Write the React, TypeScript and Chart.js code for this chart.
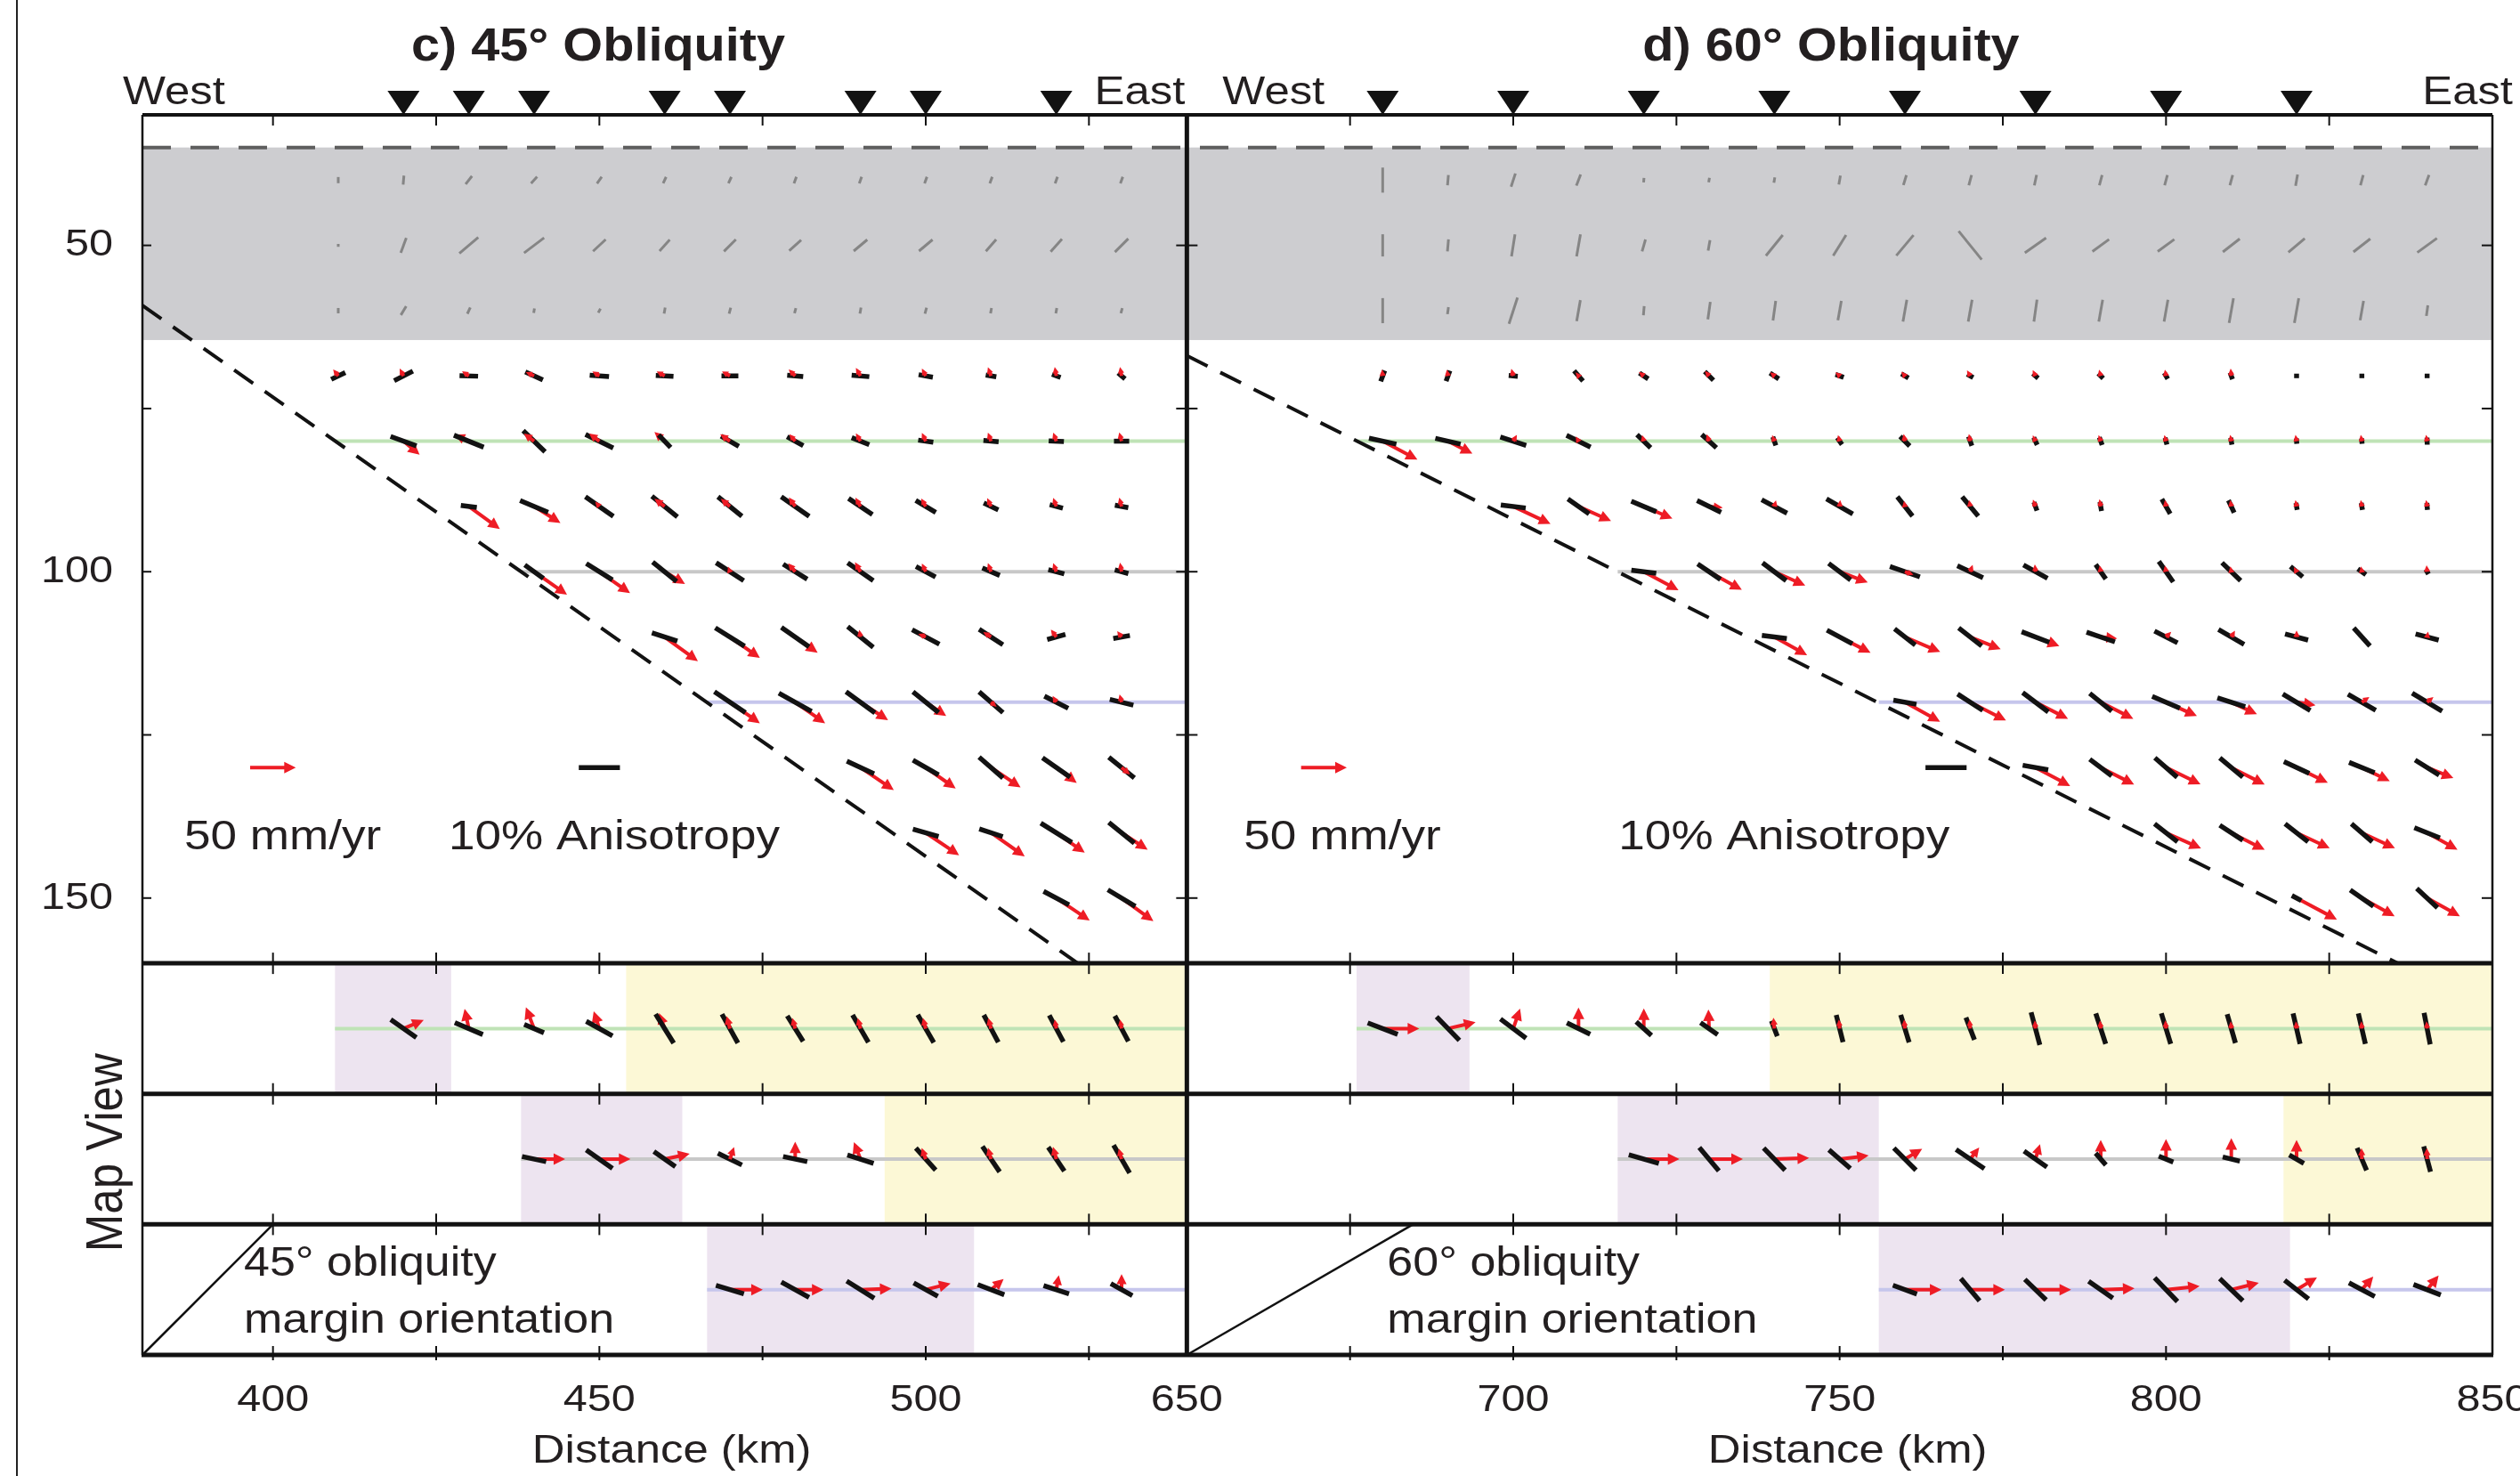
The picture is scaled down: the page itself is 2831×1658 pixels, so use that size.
import React, { useEffect, useRef } from "react";
import { Chart, registerables } from "chart.js";

Chart.register(...registerables);

// ---------------- axes / ticks ----------------
const X_MINOR_TICKS = [400, 425, 450, 475, 500, 525, 675, 700, 725, 750, 775, 800, 825];
const X_LABELS = [400, 450, 500, 650, 700, 750, 800, 850];
const Y_TICKS = [50, 75, 100, 125, 150];
const Y_LABELS = [50, 100, 150];
const STATIONS_C = [420, 430, 440, 460, 470, 490, 500, 520];
const STATIONS_D = [680, 700, 720, 740, 760, 780, 800, 820];

// lithosphere band & slab geometry (km, depth km)
const LITHO_TOP = 35;
const LITHO_BOTTOM = 64.5;
const SLAB_C = [[380, 59.2], [523.3, 160]];
const SLAB_D = [[650, 66.9], [835.5, 160]];

// profile lines (depth 80 / 100 / 120) -> map strips
const PROFILE_DEPTHS = [80, 100, 120];
const PROFILE_COLORS = ["#bfe3b6", "#c8c8c8", "#c6c6ec"];
const MAP_CENTERS = [170, 190, 210];
const C_LINE_START = [409.5, 438, 466.5];
const D_LINE_START = [676, 716, 756];
const C_PURPLE_END = [427.3, 462.7, 507.4];
const D_PURPLE_END = [693.3, 756, 819];
const C_YELLOW_START = [454.1, 493.7, null];
const D_YELLOW_START = [739.3, 818, null];

// ---------------- lithosphere (gray bars, % and orientation deg) ----------------
const LITHO_DEPTHS = [40, 50, 60];
const C_LITHO_ANI = [
  [1.5, 2.2, 2.5, 2.2, 2.0, 1.7, 1.7, 1.7, 1.7, 1.7, 1.7, 1.7, 1.7],
  [0.7, 3.9, 6.0, 6.1, 4.2, 3.7, 4.1, 3.9, 4.3, 4.3, 3.8, 4.1, 4.6],
  [1.3, 2.5, 1.7, 1.1, 1.1, 1.5, 1.5, 1.3, 1.5, 1.5, 1.3, 1.3, 1.3],
];
const C_LITHO_DIR = [
  [-90, -85, -52, -48, -55, -65, -65, -70, -70, -70, -70, -70, -70],
  [-90, -70, -40, -37, -43, -48, -45, -42, -40, -40, -49, -48, -45],
  [-90, -59, -65, -80, -60, -80, -75, -75, -80, -75, -80, -80, -75],
];
const D_LITHO_ANI = [
  [6.1, 2.5, 3.4, 2.9, 1.1, 1.1, 1.3, 2.2, 2.5, 2.6, 2.6, 2.6, 2.6, 2.6, 2.8, 2.6, 2.7],
  [5.4, 2.9, 5.4, 5.4, 3.0, 2.6, 6.5, 5.9, 6.5, 8.9, 6.3, 5.0, 5.0, 5.2, 5.2, 5.2, 5.9],
  [6.1, 1.7, 6.7, 5.2, 2.2, 4.3, 4.8, 4.8, 5.4, 5.4, 5.4, 5.4, 5.4, 6.1, 6.1, 4.8, 2.6],
];
const D_LITHO_DIR = [
  [-90, -85, -72, -69, -85, -80, -80, -80, -73, -75, -78, -75, -75, -75, -80, -75, -70],
  [-90, -85, -81, -80, -74, -80, -51, -58, -50, 51, -35, -36, -36, -38, -40, -38, -36],
  [-90, -82, -72, -80, -85, -82, -82, -80, -80, -80, -82, -80, -80, -80, -80, -80, -82],
];

// ---------------- cross-section c) 45° ----------------
const C_DEPTHS = [70, 80, 90, 100, 110, 120, 130, 140, 150];
const C_FIRST = [410, 420, 430, 440, 460, 470, 490, 500, 520];
const C_VEL = [
  [9, 9, 9, 10, 9, 10, 10, 10, 10, 9, 10, 10, 10],
  [23, 17, 14, 14, 15, 13, 10, 10, 10, 10, 10, 10],
  [42, 34, 7, 14, 13, 12, 11, 10, 10, 10, 10],
  [44, 41, 26, 6, 12, 12, 10, 10, 10, 10],
  [45, 40, 30, 8, 9, 10, 10, 8],
  [40, 40, 36, 27, 8, 8, 9],
  [44, 40, 39, 28, 12],
  [44, 45, 38, 34],
  [44, 43],
];
const C_VEL_DIR = [
  [-128, -118, -145, -155, -148, -150, -150, -135, -120, -118, -110, -100, -100],
  [40, -155, -143, -143, -138, -144, -130, -120, -115, -110, -110, -105],
  [36, 32, -130, -143, -140, -125, -120, -120, -115, -110, -105],
  [35, 35, 31, -110, -130, -120, -115, -110, -110, -100],
  [36, 35, 35, -100, -157, -148, -126, -127],
  [35, 35, 33, 34, 40, -120, -104],
  [34, 35, 34, 37, 40],
  [34, 35, 35, 33],
  [34, 36],
];
const C_ANI = [
  [3.8, 5.1, 4.5, 4.7, 4.7, 4.3, 4.1, 3.9, 4.3, 3.5, 2.6, 2.2, 2.2],
  [6.7, 7.8, 7.4, 7.5, 4.2, 5.0, 4.5, 4.6, 3.7, 3.7, 3.7, 3.7],
  [3.9, 7.4, 8.3, 8.0, 7.5, 8.3, 7.0, 5.7, 3.9, 3.3, 3.3],
  [5.6, 7.5, 7.5, 8.0, 6.9, 7.6, 5.4, 4.6, 4.0, 3.4],
  [6.5, 8.4, 8.2, 8.0, 7.5, 6.9, 4.6, 4.1],
  [9.1, 9.1, 8.7, 8.0, 7.7, 6.5, 5.9],
  [7.3, 7.2, 7.7, 8.2, 8.0],
  [6.5, 6.0, 8.9, 8.0],
  [7.0, 7.8],
];
const C_ANI_DIR = [
  [-26, -27, 2, 25, 4, 3, 0, 5, 5, 10, 10, 20, 40],
  [20, 22, 44, 26, 46, 30, 29, 22, 8, 5, 3, 0],
  [7, 23, 35, 39, 39, 35, 34, 31, 25, 15, 10],
  [36, 32, 39, 33, 32, 35, 28, 23, 15, 15],
  [18, 32, 35, 39, 28, 33, -16, -10],
  [34, 29, 36, 39, 41, 27, 14],
  [25, 30, 41, 35, 39],
  [16, 18, 32, 39],
  [28, 31],
];

// ---------------- cross-section d) 60° ----------------
const D_DEPTHS = [70, 80, 90, 100, 110, 120, 130, 140, 150];
const D_FIRST = [680, 680, 700, 720, 740, 760, 780, 800, 820];
const D_VEL = [
  [7, 7, 8, 5, 7, 7, 6, 6, 6, 7, 7, 7, 7, 8, 0, 0, 0],
  [43, 30, 8, 6, 7, 8, 7, 7, 8, 8, 7, 7, 7, 7, 7, 7, 7],
  [45, 39, 34, 15, 7, 7, 6, 7, 8, 8, 7, 7, 7, 7, 7],
  [43, 41, 37, 33, 10, 8, 8, 7, 7, 6, 6, 6, 7],
  [41, 38, 42, 36, 28, 18, 8, 8, 7, 0, 6],
  [44, 44, 40, 40, 37, 31, 21, 10, 9],
  [43, 41, 42, 41, 38, 34, 31],
  [42, 41, 40, 40, 38],
  [50, 41, 41],
];
const D_VEL_DIR = [
  [-95, -100, -105, -130, -140, -130, -140, -140, -130, -120, -115, -105, -100, -95, -90, -90, -90],
  [28, 27, -60, -120, -105, -110, -110, -105, -100, -100, -115, -110, -105, -100, -100, -100, -100],
  [25, 24, 23, 5, -75, -85, -100, -100, -110, -100, -100, -100, -100, -100, -100],
  [28, 29, 24, 21, 20, -70, -95, -100, -100, -100, -120, -100, -95],
  [29, 27, 23, 22, 21, 5, -45, -60, -90, -90, -80],
  [29, 27, 27, 27, 24, 25, 9, -35, -40],
  [28, 27, 26, 27, 26, 26, 22],
  [24, 27, 25, 25, 29],
  [28, 29, 29],
];
const D_ANI = [
  [2.8, 2.7, 2.2, 3.3, 2.6, 3.0, 2.6, 2.1, 2.0, 1.7, 1.7, 1.7, 1.7, 1.7, 1.1, 1.1, 1.1],
  [6.8, 6.3, 6.6, 6.5, 4.6, 4.8, 2.2, 2.0, 3.3, 2.4, 2.0, 2.0, 1.7, 1.7, 1.3, 1.3, 1.7],
  [6.1, 6.3, 6.6, 6.5, 7.0, 7.4, 6.0, 6.1, 2.2, 2.2, 4.1, 3.3, 1.7, 1.7, 1.7],
  [6.1, 6.7, 7.2, 6.7, 7.7, 6.9, 6.7, 4.3, 6.1, 6.3, 3.9, 2.4, 1.3],
  [6.1, 7.0, 6.4, 7.1, 7.2, 7.3, 6.3, 7.2, 5.8, 5.9, 5.8],
  [5.7, 7.3, 7.8, 6.9, 7.3, 7.1, 7.8, 7.8, 8.5],
  [6.3, 6.7, 7.2, 7.3, 6.8, 6.7, 6.9],
  [7.1, 6.7, 7.1, 6.7, 6.7],
  [2.6, 6.9, 6.9],
];
const D_ANI_DIR = [
  [-70, -70, 5, 49, 34, 45, 34, 20, 30, 30, 40, 45, 60, 70, 90, 90, 90],
  [12, 13, 18, 26, 44, 42, 70, 55, 45, 70, 65, 70, 75, 80, 85, 85, 88],
  [7, 35, 23, 26, 28, 30, 52, 50, 70, 80, 60, 65, 80, 80, 85],
  [7, 34, 37, 37, 19, 25, 29, 55, 55, 44, 40, 35, 60],
  [7, 28, 38, 38, 21, 19, 27, 30, 15, 48, 15],
  [10, 33, 37, 39, 23, 18, 31, 30, 31],
  [10, 37, 41, 40, 25, 22, 32],
  [38, 33, 38, 41, 22],
  [28, 35, 43],
];

// ---------------- map views ----------------
const C_MAP_FIRST = [420, 440, 470];
const C_MAP_VEL = [
  [24, 22, 25, 20, 18, 14, 12, 12, 12, 12, 10, 10],
  [34, 34, 28, 14, 19, 20, 13, 13, 14, 12],
  [36, 31, 34, 28, 18, 16, 17],
];
const C_MAP_VEL_DIR = [
  [-23, -102, -111, -108, -110, -105, -105, -105, -105, -105, -100, -100],
  [0, 0, -12, -71, -90, -111, -110, -105, -105, -105],
  [0, 0, -2, -14, -40, -80, -90],
];
const C_MAP_ANI = [
  [7.6, 7.4, 5.2, 7.3, 8.3, 8.0, 7.3, 7.7, 7.8, 7.5, 7.3, 7.0],
  [6.0, 7.8, 6.4, 6.5, 6.0, 6.7, 7.2, 7.5, 7.0, 7.8],
  [7.1, 7.7, 7.9, 6.7, 6.9, 6.5, 6.0],
];
const C_MAP_ANI_DIR = [
  [35, 23, 23, 29, 58, 61, 58, 60, 60, 62, 62, 62],
  [12, 35, 35, 26, 12, 18, 48, 56, 56, 60],
  [17, 29, 32, 29, 21, 18, 29],
];
const D_MAP_FIRST = [680, 720, 760];
const D_MAP_VEL = [
  [40, 31, 23, 23, 22, 21, 12, 10, 10, 10, 9, 9, 9, 8, 8, 8, 8],
  [39, 37, 38, 32, 22, 16, 17, 21, 22, 23, 21, 12, 12],
  [40, 38, 39, 37, 37, 31, 26, 19, 20],
];
const D_MAP_VEL_DIR = [
  [0, -13, -71, -90, -90, -92, -95, -95, -95, -95, -95, -95, -95, -95, -95, -95, -95],
  [0, 0, -2, -7, -31, -52, -73, -90, -90, -90, -90, -92, -92],
  [0, 0, 0, -2, -6, -14, -31, -49, -51],
];
const D_MAP_ANI = [
  [7.8, 8.0, 7.8, 6.3, 5.0, 5.1, 4.0, 6.8, 7.0, 5.8, 8.2, 7.8, 7.8, 7.3, 7.6, 7.6, 7.8],
  [7.6, 7.4, 7.5, 6.9, 7.6, 8.3, 6.8, 3.8, 3.8, 4.3, 4.1, 5.9, 6.4],
  [6.2, 7.1, 7.2, 7.2, 8.0, 7.8, 7.4, 7.1, 7.1],
];
const D_MAP_ANI_DIR = [
  [21, 46, 37, 26, 42, 35, 69, 76, 73, 69, 75, 72, 73, 74, 77, 77, 79],
  [16, 50, 46, 41, 45, 34, 35, 49, 22, 14, 30, 67, 75],
  [20, 50, 44, 35, 46, 44, 38, 28, 21],
];

// legend reference values
const LEGEND_VEL = 50; // mm/yr
const LEGEND_ANI = 10; // %

// ---------------- helpers ----------------
const GAP_KM = 110; // 540..650 km not shown
const cx = (km: number) => (km >= 650 ? km - GAP_KM : km);
const KM_PER_MMYR = 7 / 50;
const KM_PER_PCT = 6.3 / 10;
const RED = "#ee1c25";
const BLACK = "#121212";
const FONT = '"Liberation Sans", Arial, Helvetica, sans-serif';
const STRETCH = 1.13;

function text(ctx: CanvasRenderingContext2D, s: string, x: number, y: number, size: number,
  align: CanvasTextAlign = "left", baseline: CanvasTextBaseline = "alphabetic", bold = false, rot = 0) {
  ctx.save();
  ctx.translate(x, y);
  ctx.scale(STRETCH, 1);
  if (rot) ctx.rotate(rot);
  ctx.font = `${bold ? "bold " : ""}${size}px ${FONT}`;
  ctx.fillStyle = "#231f20";
  ctx.textAlign = align;
  ctx.textBaseline = baseline;
  ctx.fillText(s, 0, 0);
  ctx.restore();
}

const figurePlugin = {
  id: "figure",
  beforeDraw(chart: any) {
    const ctx = chart.ctx;
    ctx.save();
    ctx.fillStyle = "#ffffff";
    ctx.fillRect(0, 0, chart.width, chart.height);
    ctx.restore();
  },
  afterDatasetsDraw(chart: any) {
    const ctx: CanvasRenderingContext2D = chart.ctx;
    const xs = chart.scales.x;
    const ys = chart.scales.y;
    const X = (v: number) => xs.getPixelForValue(v);
    const Y = (v: number) => ys.getPixelForValue(v);
    const L = X(380), R = X(740), M = X(540), T = Y(30), B = Y(220);

    const line = (x1: number, y1: number, x2: number, y2: number, color: string, w: number, dash: number[] = []) => {
      ctx.save();
      ctx.strokeStyle = color;
      ctx.lineWidth = w;
      ctx.lineCap = "butt";
      ctx.setLineDash(dash);
      ctx.beginPath();
      ctx.moveTo(x1, y1);
      ctx.lineTo(x2, y2);
      ctx.stroke();
      ctx.restore();
    };

    const bar = (x0: number, y0: number, pct: number, dir: number, color: string, w: number) => {
      if (pct <= 0) return;
      const h = (pct * KM_PER_PCT) / 2;
      const a = (dir * Math.PI) / 180;
      line(X(x0 - h * Math.cos(a)), Y(y0 - h * Math.sin(a)), X(x0 + h * Math.cos(a)), Y(y0 + h * Math.sin(a)), color, w);
    };

    const arrow = (x0: number, y0: number, v: number, dir: number) => {
      if (v <= 0) return;
      const len = v * KM_PER_MMYR;
      const a = (dir * Math.PI) / 180;
      const p0x = X(x0), p0y = Y(y0);
      const p1x = X(x0 + len * Math.cos(a)), p1y = Y(y0 + len * Math.sin(a));
      const dx = p1x - p0x, dy = p1y - p0y;
      const d = Math.hypot(dx, dy);
      if (d < 0.5) return;
      const ux = dx / d, uy = dy / d;
      const hl = Math.min(13, Math.max(7, d * 0.65));
      const hw = hl * 0.5;
      if (d > hl) line(p0x, p0y, p1x - ux * hl * 0.7, p1y - uy * hl * 0.7, RED, 4);
      ctx.save();
      ctx.fillStyle = RED;
      ctx.beginPath();
      ctx.moveTo(p1x, p1y);
      ctx.lineTo(p1x - ux * hl - uy * hw, p1y - uy * hl + ux * hw);
      ctx.lineTo(p1x - ux * hl + uy * hw, p1y - uy * hl - ux * hw);
      ctx.closePath();
      ctx.fill();
      ctx.restore();
    };

    // ---- lithosphere band ----
    ctx.save();
    ctx.fillStyle = "#cdcdd0";
    ctx.fillRect(L, Y(LITHO_TOP), R - L, Y(LITHO_BOTTOM) - Y(LITHO_TOP));
    ctx.restore();
    line(L, Y(LITHO_TOP), R, Y(LITHO_TOP), "#5e5e5e", 4, [32, 22]);

    // ---- map strip shading ----
    const shade = (a: number | null, b: number, strip: number, color: string) => {
      if (a === null) return;
      ctx.save();
      ctx.fillStyle = color;
      const y1 = Y(MAP_CENTERS[strip] - 10), y2 = Y(MAP_CENTERS[strip] + 10);
      ctx.fillRect(X(cx(a)), y1, X(cx(b)) - X(cx(a)), y2 - y1);
      ctx.restore();
    };
    for (let s = 0; s < 3; s++) {
      shade(C_LINE_START[s], C_PURPLE_END[s], s, "#ede4f0");
      shade(D_LINE_START[s], D_PURPLE_END[s], s, "#ede4f0");
      shade(C_YELLOW_START[s], 540, s, "#fcf8d6");
      shade(D_YELLOW_START[s], 850, s, "#fcf8d6");
    }

    // ---- profile lines ----
    for (let s = 0; s < 3; s++) {
      const col = PROFILE_COLORS[s];
      line(X(cx(C_LINE_START[s])), Y(PROFILE_DEPTHS[s]), M, Y(PROFILE_DEPTHS[s]), col, 4);
      line(X(cx(D_LINE_START[s])), Y(PROFILE_DEPTHS[s]), R, Y(PROFILE_DEPTHS[s]), col, 4);
      line(X(cx(C_LINE_START[s])), Y(MAP_CENTERS[s]), M, Y(MAP_CENTERS[s]), col, 4);
      line(X(cx(D_LINE_START[s])), Y(MAP_CENTERS[s]), R, Y(MAP_CENTERS[s]), col, 4);
    }

    // ---- slab top ----
    line(X(cx(SLAB_C[0][0])), Y(SLAB_C[0][1]), X(cx(SLAB_C[1][0])), Y(SLAB_C[1][1]), BLACK, 4, [26, 16]);
    line(X(cx(SLAB_D[0][0])), Y(SLAB_D[0][1]), X(cx(SLAB_D[1][0])), Y(SLAB_D[1][1]), BLACK, 4, [26, 16]);

    // ---- lithosphere gray bars ----
    const litho = (first: number, ani: number[][], dir: number[][]) => {
      ani.forEach((row, r) => row.forEach((p, i) => bar(cx(first + 10 * i), LITHO_DEPTHS[r], p, dir[r][i], "#858585", 3)));
    };
    litho(410, C_LITHO_ANI, C_LITHO_DIR);
    litho(680, D_LITHO_ANI, D_LITHO_DIR);

    // ---- vector grids ----
    const grid = (rowsY: number[], first: number[], vel: number[][], vdir: number[][], ani: number[][], adir: number[][]) => {
      // long arrows below the anisotropy bars
      vel.forEach((row, r) => row.forEach((v, i) => {
        if (v >= 15) arrow(cx(first[r] + 10 * i), rowsY[r], v, vdir[r][i]);
      }));
      ani.forEach((row, r) => row.forEach((p, i) => {
        bar(cx(first[r] + 10 * i), rowsY[r], p, adir[r][i], BLACK, 5.5);
      }));
      // short arrows on top so they stay visible
      vel.forEach((row, r) => row.forEach((v, i) => {
        if (v < 15) arrow(cx(first[r] + 10 * i), rowsY[r], v, vdir[r][i]);
      }));
    };
    grid(C_DEPTHS, C_FIRST, C_VEL, C_VEL_DIR, C_ANI, C_ANI_DIR);
    grid(D_DEPTHS, D_FIRST, D_VEL, D_VEL_DIR, D_ANI, D_ANI_DIR);
    grid(MAP_CENTERS, C_MAP_FIRST, C_MAP_VEL, C_MAP_VEL_DIR, C_MAP_ANI, C_MAP_ANI_DIR);
    grid(MAP_CENTERS, D_MAP_FIRST, D_MAP_VEL, D_MAP_VEL_DIR, D_MAP_ANI, D_MAP_ANI_DIR);

    // ---- legends ----
    arrow(396.5, 130, LEGEND_VEL, 0);
    bar(450, 130, LEGEND_ANI, 0, BLACK, 5.5);
    arrow(cx(667.5), 130, LEGEND_VEL, 0);
    bar(cx(766.3), 130, LEGEND_ANI, 0, BLACK, 5.5);
    const legY = Y(142.5);
    text(ctx, "50 mm/yr", L + 47, legY, 47);
    text(ctx, "10% Anisotropy", L + 344, legY, 47);
    text(ctx, "50 mm/yr", M + 64, legY, 47);
    text(ctx, "10% Anisotropy", M + 485, legY, 47);

    // ---- frames ----
    line(19, 0, 19, chart.height, "#222", 2);
    line(L, T, R, T, BLACK, 4);
    [160, 180, 200, 220].forEach((d) => line(L - 1, Y(d), R + 1, Y(d), BLACK, 5));
    line(L, T, L, B, BLACK, 2.5);
    line(R, T, R, B, BLACK, 2.5);
    line(M, T - 2, M, B + 2, BLACK, 5);

    // ticks
    X_MINOR_TICKS.forEach((t) => {
      const x = X(cx(t));
      line(x, T, x, T + 12, BLACK, 2);
      [160, 180, 200].forEach((d) => line(x, Y(d) - 12, x, Y(d) + 12, BLACK, 2));
      line(x, B - 10, x, B + 6, BLACK, 2);
    });
    Y_TICKS.forEach((d) => {
      const y = Y(d);
      line(L, y, L + 10, y, BLACK, 2);
      line(M - 12, y, M + 12, y, BLACK, 2);
      line(R - 12, y, R, y, BLACK, 2);
    });

    // stations
    ctx.save();
    ctx.fillStyle = BLACK;
    [...STATIONS_C, ...STATIONS_D].forEach((s) => {
      const x = X(cx(s));
      ctx.beginPath();
      ctx.moveTo(x - 18, T - 27);
      ctx.lineTo(x + 18, T - 27);
      ctx.lineTo(x, T);
      ctx.closePath();
      ctx.fill();
    });
    ctx.restore();

    // obliquity indicators
    line(L, B, X(400), Y(200), BLACK, 2.5);
    line(M, B, X(540 + 20 / Math.tan(Math.PI / 6)), Y(200), BLACK, 2.5);
    text(ctx, "45° obliquity", L + 114, Y(200) + 58, 46);
    text(ctx, "margin orientation", L + 114, Y(200) + 122, 46);
    text(ctx, "60° obliquity", M + 225, Y(200) + 58, 46);
    text(ctx, "margin orientation", M + 225, Y(200) + 122, 46);

    // labels
    Y_LABELS.forEach((d) => text(ctx, String(d), L - 33, Y(d), 43, "right", "middle"));
    X_LABELS.forEach((v) => text(ctx, String(v), X(cx(v)), B + 51, 43, "center", "middle"));
    text(ctx, "Distance (km)", (L + M) / 2 + 8, B + 109, 45, "center", "middle");
    text(ctx, "Distance (km)", (M + R) / 2 + 9, B + 109, 45, "center", "middle");
    text(ctx, "Map View", 121, Y(189), 51, "center", "middle", false, -Math.PI / 2);

    text(ctx, "c) 45° Obliquity", 672, 68, 51, "center", "alphabetic", true);
    text(ctx, "d) 60° Obliquity", 2057, 68, 51, "center", "alphabetic", true);
    text(ctx, "West", L - 22, 117, 45, "left");
    text(ctx, "East", M - 2, 117, 45, "right");
    text(ctx, "West", M + 40, 117, 45, "left");
    text(ctx, "East", R + 23, 117, 45, "right");
  },
};

export default function App() {
  const ref = useRef<HTMLCanvasElement>(null);
  useEffect(() => {
    document.body.style.margin = "0";
    const canvas = ref.current!;
    const pts = (rowsY: number[], first: number[], vel: number[][]) =>
      vel.flatMap((row, r) => row.map((_, i) => ({ x: cx(first[r] + 10 * i), y: rowsY[r] })));
    const chart = new Chart(canvas, {
      type: "scatter",
      data: {
        datasets: [
          { label: "c) grid", data: pts(C_DEPTHS, C_FIRST, C_VEL), pointRadius: 0 },
          { label: "d) grid", data: pts(D_DEPTHS, D_FIRST, D_VEL), pointRadius: 0 },
          { label: "c) map", data: pts(MAP_CENTERS, C_MAP_FIRST, C_MAP_VEL), pointRadius: 0 },
          { label: "d) map", data: pts(MAP_CENTERS, D_MAP_FIRST, D_MAP_VEL), pointRadius: 0 },
        ],
      },
      options: {
        responsive: false,
        animation: false,
        devicePixelRatio: 1,
        events: [],
        layout: { padding: { left: 160, top: 129, right: 31, bottom: 136 } },
        plugins: { legend: { display: false }, tooltip: { enabled: false }, title: { display: false } },
        scales: {
          x: { type: "linear", min: 380, max: 740, display: false },
          y: { type: "linear", min: 30, max: 220, reverse: true, display: false },
        },
      },
      plugins: [figurePlugin],
    });
    return () => chart.destroy();
  }, []);
  return (
    <canvas
      ref={ref}
      width={2831}
      height={1658}
      style={{ position: "fixed", left: 0, top: 0, width: 2831, height: 1658 }}
    />
  );
}
